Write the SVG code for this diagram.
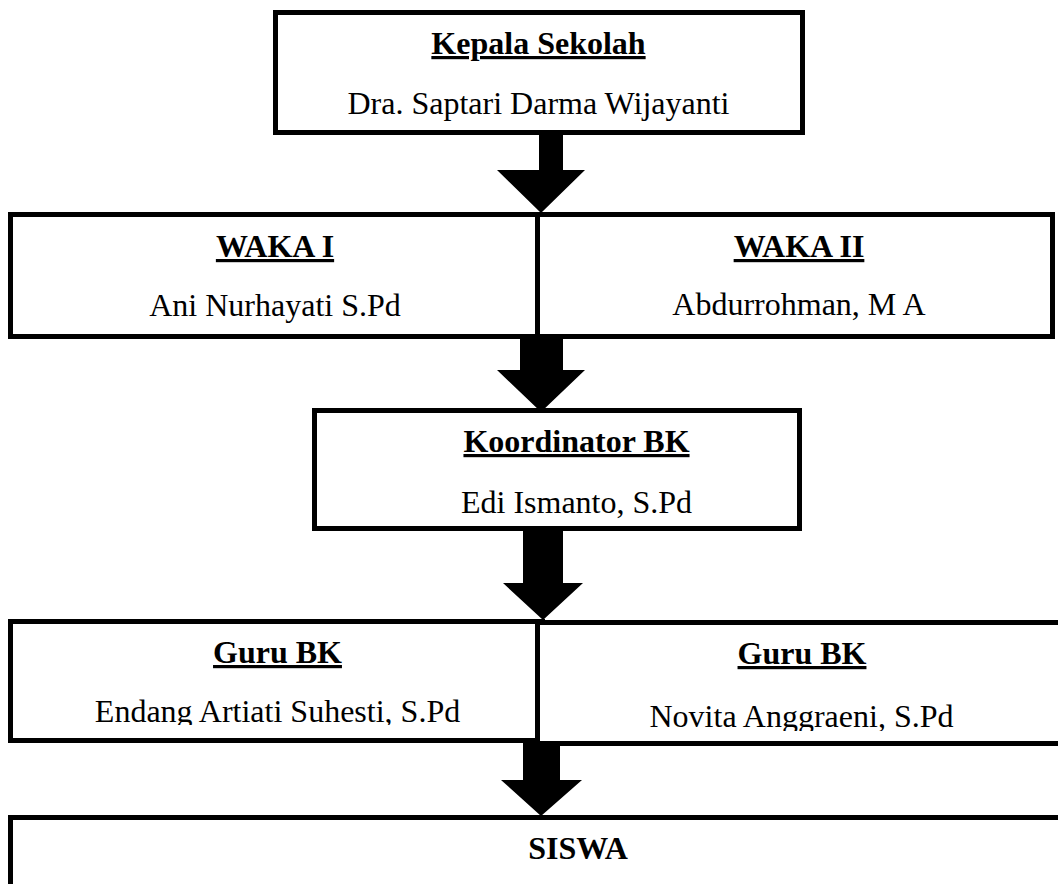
<svg xmlns="http://www.w3.org/2000/svg" width="1058" height="884" viewBox="0 0 1058 884">
  <style>
    .box { fill: #ffffff; stroke: #000000; stroke-width: 5; }
    .arrow { fill: #000000; stroke: none; }
    text { font-family: "Liberation Serif", "Times New Roman", serif; font-size: 32px; fill: #000000; text-anchor: middle; }
    .head { font-weight: bold; text-decoration: underline; text-decoration-thickness: 3px; }
    .plain { font-weight: bold; }
  </style>
  <defs>
    <clipPath id="clipGuru1"><rect x="10" y="620" width="535" height="105"/></clipPath>
    <clipPath id="clipGuru2"><rect x="540" y="620" width="520" height="111"/></clipPath>
  </defs>
  <rect x="0" y="0" width="1058" height="884" fill="#ffffff"/>

  <g id="kepala-sekolah">
    <rect class="box" x="275.5" y="12.5" width="527" height="120"/>
    <text class="head" x="538.5" y="54">Kepala Sekolah</text>
    <text x="538.5" y="114">Dra. Saptari Darma Wijayanti</text>
  </g>

  <g id="waka-1">
    <rect class="box" x="10.5" y="214.5" width="532" height="122"/>
    <text class="head" x="275" y="257">WAKA I</text>
    <text x="275" y="315.5">Ani Nurhayati S.Pd</text>
  </g>

  <g id="waka-2">
    <rect class="box" x="537.5" y="214.5" width="515" height="122"/>
    <text class="head" x="799" y="257">WAKA II</text>
    <text x="799" y="315">Abdurrohman, M A</text>
  </g>

  <g id="koordinator-bk">
    <rect class="box" x="314.5" y="410.5" width="485" height="118"/>
    <text class="head" x="576.5" y="452">Koordinator BK</text>
    <text x="576.5" y="513">Edi Ismanto, S.Pd</text>
  </g>

  <g id="guru-bk-1">
    <rect class="box" x="10.5" y="621.5" width="532" height="119"/>
    <text class="head" x="277.5" y="663">Guru BK</text>
    <text x="277.5" y="722" clip-path="url(#clipGuru1)">Endang Artiati Suhesti, S.Pd</text>
  </g>

  <g id="guru-bk-2">
    <rect class="box" x="537.5" y="622.5" width="530" height="121"/>
    <text class="head" x="802" y="664">Guru BK</text>
    <text x="801.5" y="727" clip-path="url(#clipGuru2)">Novita Anggraeni, S.Pd</text>
  </g>

  <g id="siswa">
    <rect class="box" x="10.5" y="817.5" width="1060" height="100"/>
    <text class="plain" x="578" y="859">SISWA</text>
  </g>

  <g id="connectors">
    <polygon class="arrow" points="539,134 563,134 563,170 585,170 541,213 497,170 539,170"/>
    <polygon class="arrow" points="520,338 563,338 563,370 585,370 541,412 497,370 520,370"/>
    <polygon class="arrow" points="523,530 563,530 563,583 583,583 543,620 503,583 523,583"/>
    <polygon class="arrow" points="523,742 560,742 560,780 582,780 541,816 501,780 523,780"/>
  </g>
</svg>
